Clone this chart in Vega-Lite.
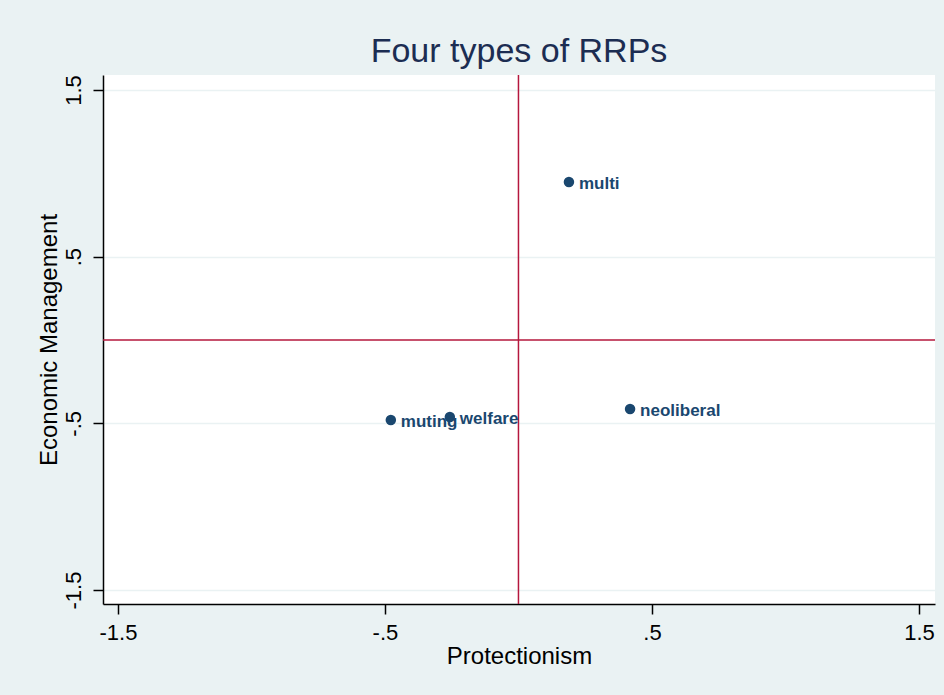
{
  "$schema": "https://vega.github.io/schema/vega-lite/v6.json",
  "autosize": {"type": "none"},
  "width": 832,
  "height": 529,
  "padding": {"left": 103, "top": 75, "right": 9, "bottom": 91},
  "background": "#EAF2F3",
  "view": {"fill": "white", "stroke": null},
  "title": {
    "text": "Four types of RRPs",
    "font": "Liberation Sans",
    "fontSize": 34,
    "fontWeight": "normal",
    "color": "#1C2D52",
    "anchor": "middle",
    "offset": 5
  },
  "data": {
    "values": [
      {"type": "multi", "protectionism": 0.189, "economic": 0.948},
      {"type": "neoliberal", "protectionism": 0.418, "economic": -0.414},
      {"type": "welfare", "protectionism": -0.257, "economic": -0.462},
      {"type": "muting", "protectionism": -0.478, "economic": -0.48}
    ]
  },
  "encoding": {
    "x": {
      "field": "protectionism",
      "type": "quantitative",
      "title": "Protectionism",
      "scale": {"domain": [-1.556, 1.56], "nice": false, "zero": false},
      "axis": {
        "values": [-1.5, -0.5, 0.5, 1.5],
        "labelExpr": "(datum.value < 0 ? '-' : '') + replace(format(abs(datum.value), '.1f'), '0.', '.')",
        "grid": false,
        "domainColor": "black",
        "domainWidth": 1.5,
        "tickColor": "black",
        "tickWidth": 1.5,
        "tickSize": 10,
        "labelFont": "Liberation Sans",
        "labelFontSize": 22,
        "labelColor": "black",
        "labelPadding": 8,
        "titleFont": "Liberation Sans",
        "titleFontSize": 24,
        "titleFontWeight": "normal",
        "titleColor": "black",
        "titlePadding": 1
      }
    },
    "y": {
      "field": "economic",
      "type": "quantitative",
      "title": "Economic Management",
      "scale": {"domain": [-1.584, 1.59], "nice": false, "zero": false},
      "axis": {
        "values": [-1.5, -0.5, 0.5, 1.5],
        "labelExpr": "(datum.value < 0 ? '-' : '') + replace(format(abs(datum.value), '.1f'), '0.', '.')",
        "grid": true,
        "gridColor": "#EAF2F3",
        "gridWidth": 1.5,
        "domainColor": "black",
        "domainWidth": 1.5,
        "tickColor": "black",
        "tickWidth": 1.5,
        "tickSize": 10,
        "labelAngle": -90,
        "labelAlign": "center",
        "labelBaseline": "bottom",
        "labelFont": "Liberation Sans",
        "labelFontSize": 22,
        "labelColor": "black",
        "labelPadding": 8,
        "titleFont": "Liberation Sans",
        "titleFontSize": 24,
        "titleFontWeight": "normal",
        "titleColor": "black",
        "titlePadding": 1
      }
    }
  },
  "layer": [
    {
      "mark": {"type": "rule", "color": "#B5173D", "strokeWidth": 1.5},
      "data": {"values": [{"v": 0}]},
      "encoding": {"x": {"field": "v", "type": "quantitative"}, "y": null}
    },
    {
      "mark": {"type": "rule", "color": "#B5173D", "strokeWidth": 1.5},
      "data": {"values": [{"v": 0}]},
      "encoding": {"y": {"field": "v", "type": "quantitative"}, "x": null}
    },
    {
      "mark": {"type": "point", "filled": true, "opacity": 1, "size": 110, "color": "#1A476F", "shape": "circle"}
    },
    {
      "mark": {"type": "text", "align": "left", "baseline": "middle", "dx": 10, "dy": 2, "font": "Liberation Sans", "fontSize": 17, "fontWeight": "bold", "color": "#1A476F"},
      "encoding": {"text": {"field": "type"}}
    }
  ]
}
